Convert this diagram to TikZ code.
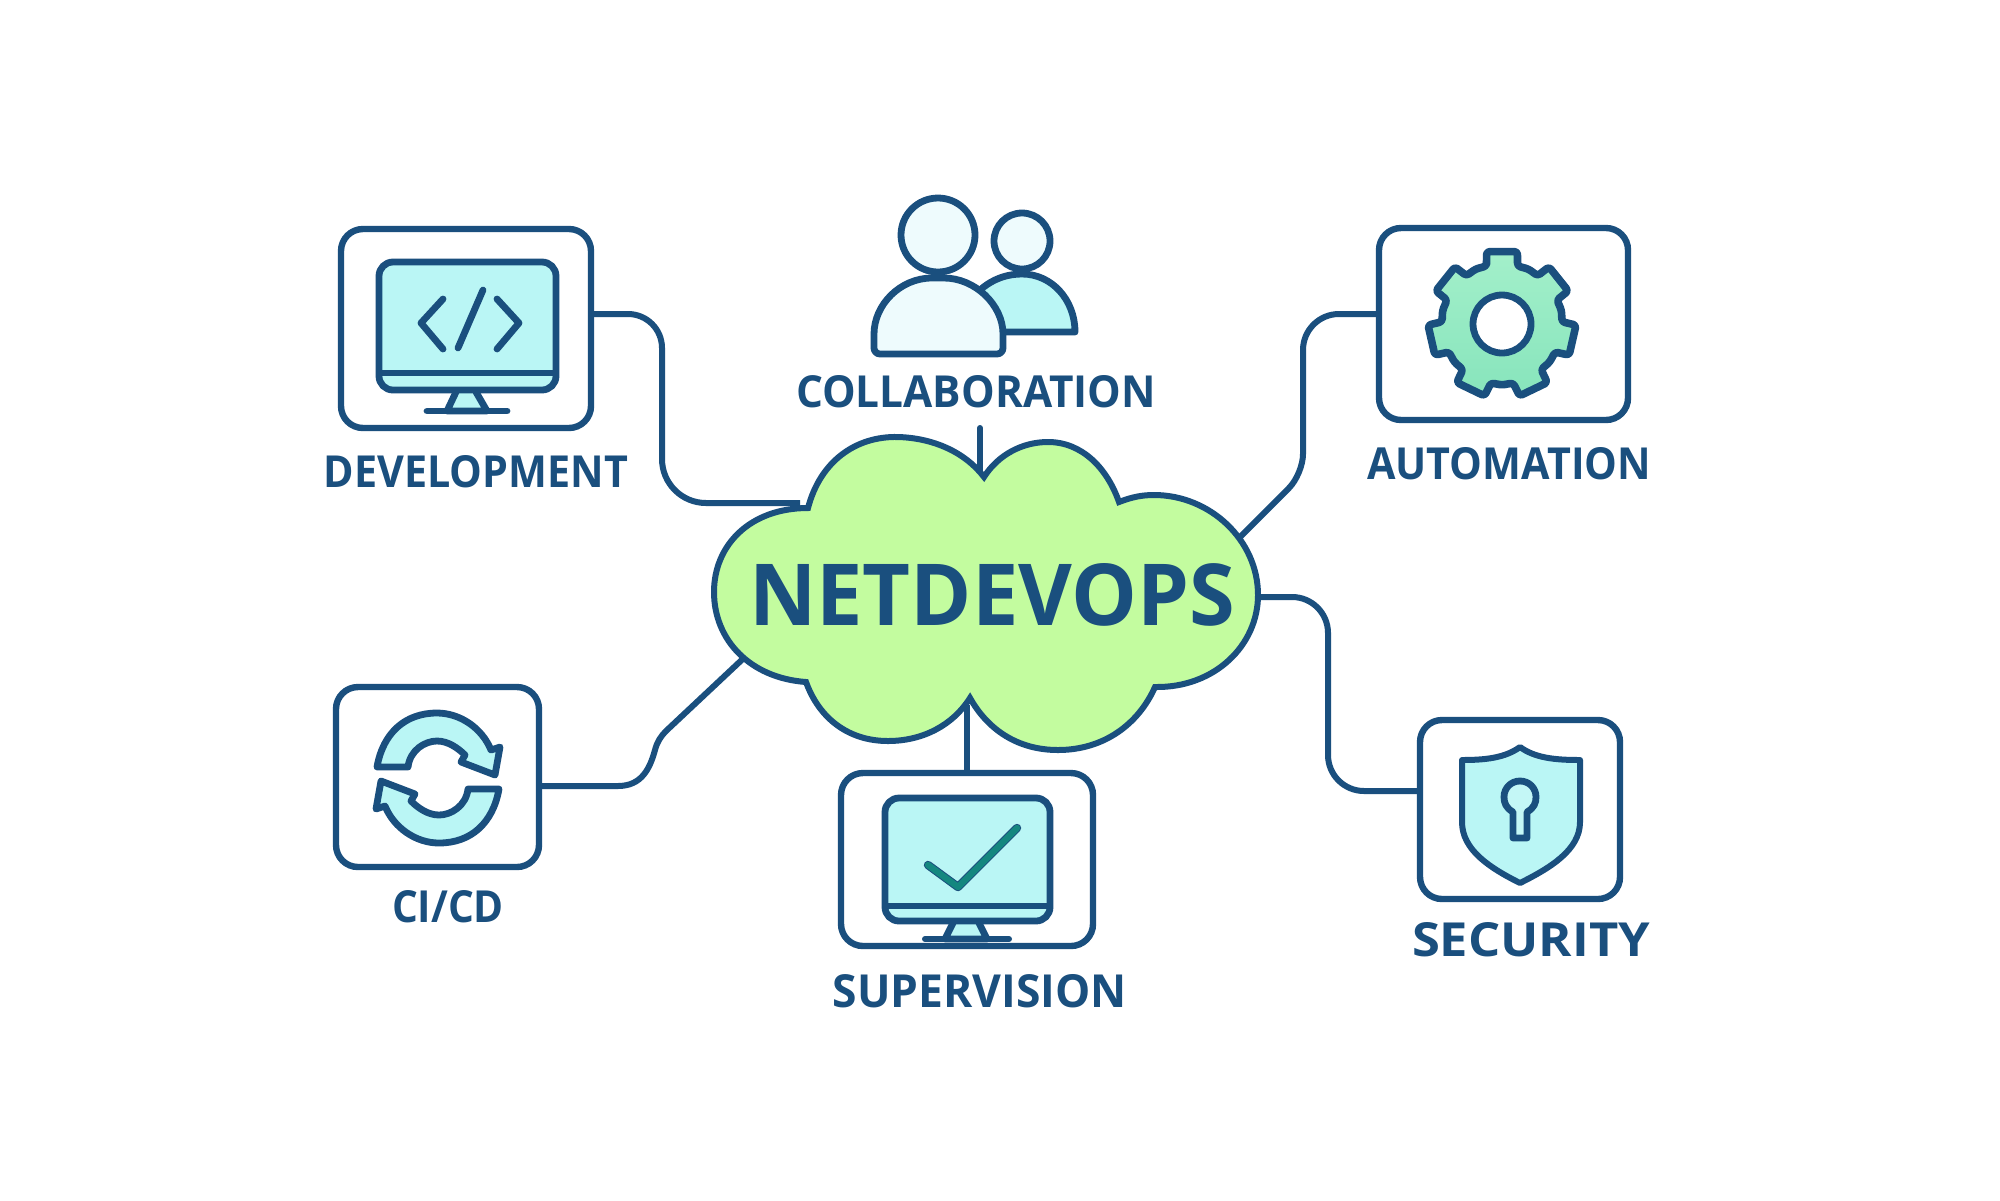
\documentclass[tikz,border=0pt]{standalone}
\usepackage{graphicx}
\usepackage{fontspec}
\setmainfont{Open Sans}
\usetikzlibrary{calc}
\definecolor{navy}{HTML}{1A4F7E}
\definecolor{aqua}{HTML}{BAF6F5}
\definecolor{pale}{HTML}{EEFBFD}
\definecolor{leaf}{HTML}{C3FC9F}
\definecolor{mint}{HTML}{93EDC1}
\definecolor{tealc}{HTML}{14877F}
\newcommand{\lab}[3]{\resizebox{#1pt}{#2pt}{\bfseries #3}}
\tikzset{
  iconbox/.style={draw=navy,line width=3.2pt,rounded corners=11pt,inner sep=0pt,outer sep=0pt,fill=white},
  wire/.style={draw=navy,line width=3pt,line join=round},
  glyph/.style={draw=navy,line width=3.4pt,line join=round,line cap=round},
  txt/.style={text=navy,inner sep=0pt,outer sep=0pt,anchor=base},
  screen/.style={glyph,fill=aqua,rounded corners=7pt}
}
\begin{document}
\begin{tikzpicture}[x=0.5pt,y=-0.5pt]
\useasboundingbox[fill=white] (0,0) rectangle (2000,1200);

% boxes
\node[iconbox,minimum width=125pt,minimum height=99.5pt] (dev) at (466,328.5) {};
\node[iconbox,minimum width=124.5pt,minimum height=96pt] (auto) at (1503.5,324) {};
\node[iconbox,minimum width=101.5pt,minimum height=90pt] (cicd) at (437.5,777) {};
\node[iconbox,minimum width=100pt,minimum height=89.5pt] (sec) at (1520,809.5) {};
\node[iconbox,minimum width=126pt,minimum height=86.5pt] (sup) at (967,859.5) {};

% connection points
\coordinate (devP) at (dev.east |- 0,314);
\coordinate (autoP) at (auto.west |- 0,314);
\coordinate (cicdP) at (cicd.east |- 0,786);
\coordinate (secP) at (sec.west |- 0,791);
\coordinate (cloudW) at (800,503);
\coordinate (cloudNE) at (1236,541);
\coordinate (cloudE) at (1250,597);
\coordinate (cloudSW) at (747,655);
\coordinate (cloudN) at (980,478);
\coordinate (cloudS) at (967,705);
\coordinate (collabP) at (980,428);

% connectors
\draw[wire] (devP) [rounded corners=17pt] -- (662,314) [rounded corners=22pt] -- (662,503) -- (cloudW);
\draw[wire] (autoP) [rounded corners=18pt] -- (1303,314) [rounded corners=10pt] -- (1303,474) -- (cloudNE);
\draw[wire,rounded corners=18pt] (cloudE) -- (1328,597) -- (1328,791) -- (secP);
\draw[wire] (cicdP) -- (618,786) .. controls (642,786) and (650,768) .. (655,750) .. controls (657,742) and (661,736) .. (666,731) -- (cloudSW);
\draw[wire,line cap=round] (collabP) -- (cloudN);
\draw[wire] (sup.north -| cloudS) -- (cloudS);

% cloud
\draw[draw=navy,line width=3pt,fill=leaf,line join=miter]
  (808,508) .. controls (820,462) and (855,436) .. (898,437)
  .. controls (933,438) and (965,452) .. (984,477)
  .. controls (998,455) and (1022,442) .. (1048,442)
  .. controls (1082,442) and (1107,468) .. (1119,502)
  .. controls (1132,497) and (1142,495) .. (1154,495)
  .. controls (1210,495) and (1258,540) .. (1258,595)
  .. controls (1258,645) and (1215,688) .. (1155,687)
  .. controls (1138,725) and (1103,750) .. (1058,750)
  .. controls (1018,750) and (988,730) .. (970,698)
  .. controls (953,725) and (923,741) .. (888,741)
  .. controls (848,741) and (819,718) .. (806,682)
  .. controls (750,678) and (714,640) .. (714,592)
  .. controls (714,545) and (750,508) .. (808,508) -- cycle;
\node[txt] (hub) at (992,625) {\lab{243}{31}{NETDEVOPS}};

% development monitor
\draw[glyph,fill=aqua] (456,392) -- (447,411) -- (487,411) -- (476,392);
\draw[screen] (379,262) rectangle (556,390);
\draw[glyph,line cap=butt] (379,373) -- (556,373);
\draw[glyph] (427,411) -- (507,411);
\draw[glyph] (443,299) -- (421,323) -- (443,349);
\draw[glyph] (483,290) -- (458,348);
\draw[glyph] (497,299) -- (519,323) -- (497,349);

% supervision monitor
\draw[glyph,fill=aqua] (953,923) -- (945,939) -- (987,939) -- (979,923);
\draw[screen] (885,798) rectangle (1050,921);
\draw[glyph,line cap=butt] (885,906) -- (1050,906);
\draw[glyph,line width=3pt] (925,939) -- (1009,939);
\draw[navy,line width=4.2pt,line cap=round,line join=round] (928,865) -- (958,887) -- (1017,828);
\draw[tealc,line width=3.2pt,line cap=round,line join=round] (928,865) -- (958,887) -- (1017,828);

% gear
\begin{scope}[shift={(1502,324)}]
  \draw[glyph,line width=3.8pt,top color=mint!85!white,bottom color=mint!92!teal,rounded corners=1.5pt]
    (255:60)
    \foreach \a in {270,321.43,12.86,64.29,115.71,167.14,218.57} {
      -- (\a-15:60) -- (\a-12:74) -- (\a+12:74) -- (\a+15:60) -- (\a+25.7:61)
    } -- cycle;
  \draw[glyph,fill=white] (0,0) circle[radius=29];
\end{scope}

% refresh arrows
\draw[glyph,fill=aqua] (377,767) .. controls (383,733) and (405,713) .. (437,713) .. controls (460,713) and (482,728) .. (491,750) -- (500,747) -- (495,775) -- (461,762) -- (465,755) .. controls (458,748) and (448,741) .. (437,741) .. controls (425,741) and (410,750) .. (408,767) -- cycle;
\begin{scope}[rotate around={180:(438,778)}]
\draw[glyph,fill=aqua] (377,767) .. controls (383,733) and (405,713) .. (437,713) .. controls (460,713) and (482,728) .. (491,750) -- (500,747) -- (495,775) -- (461,762) -- (465,755) .. controls (458,748) and (448,741) .. (437,741) .. controls (425,741) and (410,750) .. (408,767) -- cycle;
\end{scope}

% shield
\draw[glyph,fill=aqua,line width=3pt] (1520,747) .. controls (1505,758) and (1485,760) .. (1462,760) -- (1462,822) .. controls (1462,850) and (1490,868) .. (1520,883) .. controls (1550,868) and (1580,850) .. (1580,822) -- (1580,760) .. controls (1555,760) and (1535,758) .. (1520,747) -- cycle;
\draw[glyph,fill=aqua!85!white] (1513,812) .. controls (1506,808) and (1504,803) .. (1504,797) .. controls (1504,788) and (1511,781) .. (1520,781) .. controls (1529,781) and (1536,788) .. (1536,797) .. controls (1536,803) and (1534,808) .. (1527,812) -- (1527,838) -- (1513,838) -- cycle;

% people
\draw[glyph,fill=aqua] (1003,332) -- (1075,332) .. controls (1075,300) and (1052,274) .. (1022,274) .. controls (995,274) and (975,290) .. (965,310) -- cycle;
\draw[glyph,fill=pale] (1022,241) circle[radius=28];
\draw[glyph,fill=pale] (938,235) circle[radius=37];
\draw[glyph,fill=pale,rounded corners=3pt] (874,354) -- (874,340) .. controls (874,305) and (900,278) .. (938,278) .. controls (975,278) and (1003,305) .. (1003,340) -- (1003,354) -- cycle;

% labels
\node[txt] (tDev) at (476,487) {\lab{152}{16}{DEVELOPMENT}};
\node[txt] (tCol) at (976,407) {\lab{180}{16}{COLLABORATION}};
\node[txt] (tAut) at (1509,479) {\lab{142}{16}{AUTOMATION}};
\node[txt] (tCi) at (448,922) {\lab{56}{16}{CI/CD}};
\node[txt] (tSec) at (1531,956) {\lab{119}{17}{SECURITY}};
\node[txt] (tSup) at (980,1007) {\lab{147}{16.5}{SUPERVISION}};
\end{tikzpicture}
\end{document}
